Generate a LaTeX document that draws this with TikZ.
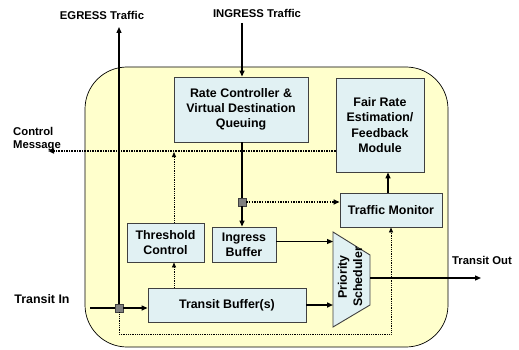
\documentclass[tikz,border=0pt]{standalone}
\usepackage{fontspec}
\setmainfont{Liberation Sans}
\usetikzlibrary{
	positioning,
	arrows.meta
}

\definecolor{panel}{HTML}{FFFFCC}
\definecolor{boxfill}{HTML}{E1F1F3}
\definecolor{boxline}{HTML}{404040}
\definecolor{juncfill}{HTML}{7F7F7F}

\tikzset{
	panelbox/.style={fill=panel,draw=black,line width=0.7pt,rounded corners=42pt},
	block/.style={draw=boxline,fill=boxfill,line width=0.9pt,inner sep=0pt,align=center,
		font=\fontsize{12.4}{15.3}\selectfont\bfseries},
	extlbl/.style={inner sep=0pt,align=left,font=\fontsize{11.3}{13.5}\selectfont\bfseries},
	junc/.style={draw=boxline,fill=juncfill,minimum size=8pt,inner sep=0pt,line width=0.6pt},
	flow/.style={-{Triangle[length=6pt,width=5pt]},line width=1.3pt},
	ctrl/.style={-{Triangle[length=6pt,width=5pt]},line width=1.5pt,dash pattern=on 1.5pt off 1.1pt},
	sense/.style={-{Triangle[length=5pt,width=4pt]},line width=0.8pt,dash pattern=on 0.8pt off 1pt}
}

\begin{document}
\begin{tikzpicture}[x=1pt,y=-1pt]
		\useasboundingbox (0,0) rectangle (519,350);
		\draw[panelbox] (85,67) rectangle (448,347);

		% scheduler outline
		\draw[draw=boxline,fill=boxfill,line width=0.9pt]
			(333,232) -- (370,255) -- (370,305) -- (333,327) -- cycle;

		\draw
			node[block,minimum width=134pt,minimum height=65pt] (rc) at (241,109.5) {Rate Controller \&\\Virtual Destination\\Queuing}
			node[block,minimum width=88pt,minimum height=94pt]  (fr) at (380,125)   {Fair Rate\\Estimation/\\Feedback\\Module}
			node[block,minimum width=102pt,minimum height=34pt] (tm) at (391,210)   {Traffic Monitor}
			node[block,minimum width=77pt,minimum height=39pt]  (th) at (165.5,242.5) {Threshold\\Control}
			node[block,minimum width=64pt,minimum height=35pt]  (ib) at (244,244.5) {Ingress\\Buffer}
			node[block,minimum width=158pt,minimum height=34pt] (tb) at (227,305)   {Transit Buffer(s)}
			node[block,draw=none,fill=none,rotate=90]           (sched) at (350,277) {Priority\\Scheduler}
			node[junc] (jE) at (119,308) {}
			node[junc] (jI) at (242,202) {}

			node[extlbl] (egresslbl)  at (102,15)  {EGRESS Traffic}
			node[extlbl] (ingresslbl) at (257,13)  {INGRESS Traffic}
			node[extlbl,anchor=west] (ctrllbl) at (13,139) {Control\\Message}
			node[extlbl,font=\fontsize{12.4}{15}\selectfont\bfseries] (tinlbl) at (42,299) {Transit In}
			node[extlbl] (toutlbl)    at (482,260) {Transit Out}
		;

		\coordinate (ingin)   at (242,23);
		\coordinate (egout)   at (119,27);
		\coordinate (ctrlout) at (48,151);
		\coordinate (tin)     at (90,308);
		\coordinate (tout)    at (481,278);
		\coordinate (schL)    at (333,279);
		\coordinate (schR)    at (370,278);
		\coordinate (thx)     at (174,0);

		% data paths
		\draw (ingin) edge[flow] (ingin |- rc.north);
		\draw[line width=1.3pt] (jI |- rc.south) -- (jI);
		\draw[flow] (jI) -- (jI |- ib.north);
		\draw[line width=1.3pt] (tin) -- (jE);
		\draw[flow] (jE) -- (jE -| tb.west);
		\draw[flow] (jE) -- (egout);
		\draw[flow,line width=1pt] ([yshift=3pt]ib.east) -- ([yshift=3pt]ib.east -| schL);
		\draw[flow,line width=2pt] (tb.east) -- (tb.east -| schL);
		\draw[flow] (schR) -- (tout);
		\draw[flow] ([xshift=-3pt]tm.north) -- ([xshift=-3pt]tm.north |- fr.south);

		% control paths
		\draw[ctrl] (fr.west |- ctrlout) -- (ctrlout);
		\draw[ctrl] (jI) -- (jI -| tm.west);
		\draw[sense] (thx |- th.north) -- ([yshift=-1pt]thx |- ctrlout);
		\draw[sense] (thx |- tb.north) -- (thx |- th.south);
		\draw[sense] (jE) -- ++(0,26) -| (tm.south);
	\end{tikzpicture}
\end{document}
